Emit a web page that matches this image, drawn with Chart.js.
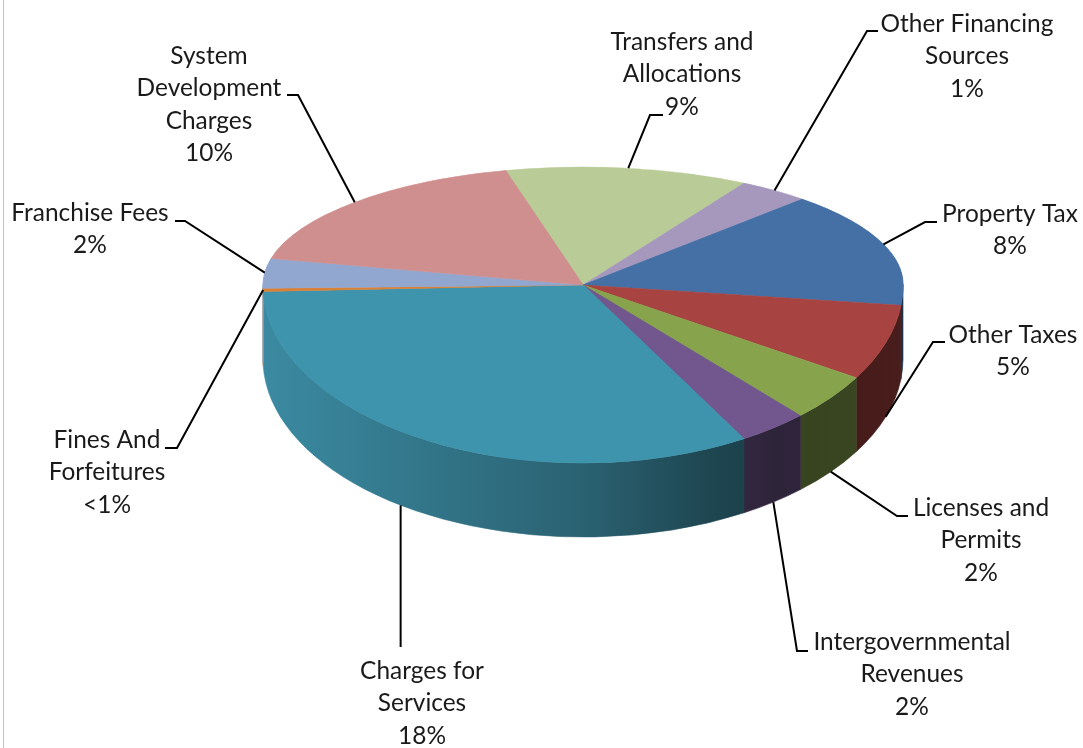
<!DOCTYPE html>
<html><head><meta charset="utf-8">
<script src="https://cdn.jsdelivr.net/npm/chart.js@4.4.1/dist/chart.umd.min.js"></script>
<style>
html,body{margin:0;padding:0;background:#fff;overflow:hidden;}
#wrap{width:1083px;height:748px;position:relative;}
</style></head>
<body><div id="wrap"><canvas id="c" width="1083" height="748"></canvas></div>
<script>
// ---- data ----
const categories = ['Transfers and Allocations','Other Financing Sources','Property Tax','Other Taxes','Licenses and Permits','Intergovernmental Revenues','Charges for Services','Fines And Forfeitures','Franchise Fees','System Development Charges'];
const sliceShares = [12.3, 3.6, 14.8, 6.9, 4.4, 3.5, 32.8, 0.3, 3.9, 17.5];
const percentLabels = ['9%','1%','8%','5%','2%','2%','18%','<1%','2%','10%'];
const labelLines = [['Transfers and','Allocations'],['Other Financing','Sources'],['Property Tax'],['Other Taxes'],['Licenses and','Permits'],['Intergovernmental','Revenues'],['Charges for','Services'],['Fines And','Forfeitures'],['Franchise Fees'],['System','Development','Charges']];
const sliceColors = ['#B9CB96','#A698BD','#4470A6','#A74442','#87A44D','#71578E','#3F94AD','#DA8138','#91A7D0','#CF8F8E'];

// ---- layout / style ----
const CX = 583, CY = 285, RX = 320, RY_TOP = 118, RY_BOT = 178, DEPTH = 74;
const labelLayout = [
  {frac:0.5,  wall:false, elbow:[650,115], end:[663,115], cx:682,  base:50},
  {frac:0.5,  wall:false, elbow:[867,31],  end:[878,31],  cx:967,  base:32},
  {frac:0.5,  wall:false, elbow:[925,222], end:[937,222], cx:1010, base:222},
  {frac:0.5,  wall:true,  elbow:[933,342], end:[945,342], cx:1013, base:343},
  {frac:0.5,  wall:true,  elbow:[897,516], end:[908,516], cx:981,  base:516},
  {frac:0.5,  wall:true,  elbow:[797,651], end:[808,651], cx:912,  base:650},
  {frac:0.55, wall:true,  drop:647, cx:422, base:679},
  {frac:0.5,  wall:false, elbow:[177,448], end:[165,448], cx:107,  base:448},
  {frac:0.5,  wall:false, elbow:[185,221], end:[175,221], cx:90,   base:221},
  {frac:0.5,  wall:false, elbow:[298,95],  end:[287,95],  cx:209,  base:64}
];
const LINE_H = 32.4;

function shade(hex, f){
  const n = parseInt(hex.slice(1),16);
  const r = Math.round(((n>>16)&255)*f), g = Math.round(((n>>8)&255)*f), b = Math.round((n&255)*f);
  return `rgb(${r},${g},${b})`;
}

const pie3d = {
  id:'pie3d',
  beforeDatasetsDraw(chart){
    const ctx = chart.ctx;
    const arcs = chart.getDatasetMeta(0).data;
    const p0 = arcs[0].getProps(['x','y','outerRadius'], true);
    const cx = p0.x, cy = p0.y, r = p0.outerRadius;
    const sx = RX / r, syT = RY_TOP / r, syB = RY_BOT / r;
    const Dl = DEPTH / syB;
    const TWO = Math.PI*2;
    // walls (front half only)
    ctx.save();
    ctx.translate(CX, CY); ctx.scale(sx, syB); ctx.translate(-cx, -cy);
    arcs.forEach((arc, i) => {
      const p = arc.getProps(['startAngle','endAngle'], true);
      let a = p.startAngle, b = p.endAngle;
      const k = Math.floor(a / TWO); a -= k*TWO; b -= k*TWO;
      const col = sliceColors[i];
      const g = ctx.createLinearGradient(cx - r, 0, cx + r, 0);
      g.addColorStop(0, shade(col, 0.93));
      g.addColorStop(0.5, shade(col, 0.66));
      g.addColorStop(0.7, shade(col, 0.47));
      g.addColorStop(0.8, shade(col, 0.41));
      g.addColorStop(1, shade(col, 0.43));
      [[0, Math.PI],[TWO, TWO+Math.PI]].forEach(([lo, hi]) => {
        const s = Math.max(a, lo), e = Math.min(b, hi);
        if (e <= s) return;
        ctx.beginPath();
        ctx.arc(cx, cy, r, s, e);
        ctx.arc(cx, cy + Dl, r, e, s, true);
        ctx.closePath();
        ctx.fillStyle = g; ctx.fill();
        ctx.lineWidth = 0.8; ctx.strokeStyle = g; ctx.stroke();
      });
    });
    ctx.restore();
    // top face: back half
    ctx.save();
    ctx.beginPath(); ctx.rect(0, 0, chart.width, CY + 0.5); ctx.clip();
    ctx.translate(CX, CY); ctx.scale(sx, syT); ctx.translate(-cx, -cy);
    arcs.forEach(a => a.draw(ctx));
    ctx.restore();
    // top face: front half
    ctx.save();
    ctx.beginPath(); ctx.rect(0, CY - 0.5, chart.width, chart.height); ctx.clip();
    ctx.translate(CX, CY); ctx.scale(sx, syB); ctx.translate(-cx, -cy);
    arcs.forEach(a => a.draw(ctx));
    ctx.restore();
    return false;
  }
};

const labelsPlugin = {
  id:'leaderLabels',
  afterDraw(chart){
    const ctx = chart.ctx;
    const arcs = chart.getDatasetMeta(0).data;
    ctx.save();
    // frame line at left
    ctx.strokeStyle = '#C4C4C4'; ctx.lineWidth = 1;
    ctx.beginPath(); ctx.moveTo(3.5, 0); ctx.lineTo(3.5, chart.height); ctx.stroke();
    ctx.font = '100px Lato';
    const fs = 100 * 173 / ctx.measureText('Other Financing').width;
    ctx.font = fs.toFixed(2) + 'px Lato';
    ctx.textAlign = 'center'; ctx.textBaseline = 'alphabetic';
    labelLayout.forEach((L, i) => {
      const p = arcs[i].getProps(['startAngle','endAngle'], true);
      const th = p.startAngle + L.frac * (p.endAngle - p.startAngle);
      const sn = Math.sin(th);
      const ax = CX + RX * Math.cos(th);
      const ay = CY + (sn < 0 ? RY_TOP : RY_BOT) * sn + (L.wall ? DEPTH : 0);
      ctx.strokeStyle = '#000'; ctx.lineWidth = 2; ctx.lineJoin = 'miter';
      ctx.beginPath(); ctx.moveTo(ax, ay);
      if (L.drop) { ctx.lineTo(ax, L.drop); }
      else { ctx.lineTo(L.elbow[0], L.elbow[1]); ctx.lineTo(L.end[0], L.end[1]); }
      ctx.stroke();
      ctx.fillStyle = '#1a1a1a';
      const lines = labelLines[i].concat([percentLabels[i]]);
      lines.forEach((t, j) => ctx.fillText(t, L.cx, L.base + j * LINE_H));
    });
    ctx.restore();
  }
};

new Chart(document.getElementById('c'), {
  type:'pie',
  data:{ labels: categories, datasets:[{ data: sliceShares, backgroundColor: sliceColors, borderColor: sliceColors, borderWidth: 1, hoverOffset: 0 }]},
  options:{
    responsive:false, animation:false, rotation:-14,
    layout:{ padding:{ left:263, right:180, top:54, bottom:54 } },
    plugins:{ legend:{ display:false }, tooltip:{ enabled:false } }
  },
  plugins:[pie3d, labelsPlugin]
});
</script></body></html>
